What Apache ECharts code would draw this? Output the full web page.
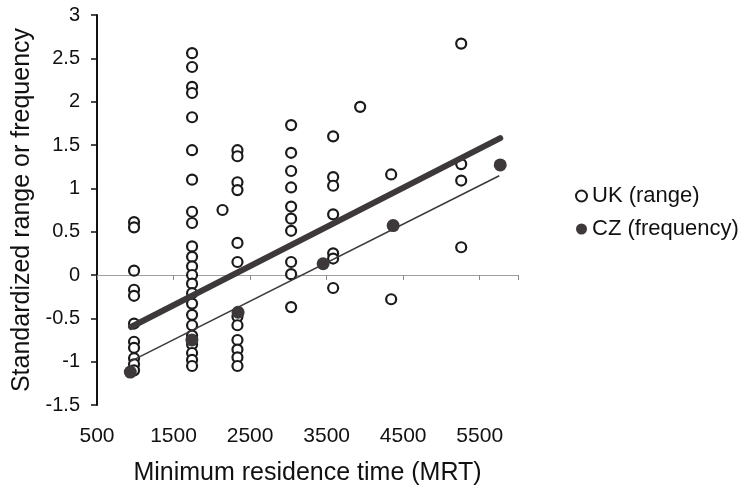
<!DOCTYPE html>
<html>
<head>
<meta charset="utf-8">
<script src="https://cdn.jsdelivr.net/npm/echarts@6/dist/echarts.min.js"></script>
<style>
html, body { margin: 0; padding: 0; background: #fff; }
#chart { width: 742px; height: 488px; }
</style>
</head>
<body>
<div id="chart"></div>
<script>
// UK (range) - open circles, [MRT, standardized value]
var ukPoints = [
	[984, 0.61], [984, 0.55], [984, 0.05], [984, -0.17], [984, -0.24], [984, -0.56],
	[984, -0.77], [984, -0.84], [984, -0.96], [984, -1.03], [984, -1.1],
	[1742, 2.56], [1742, 2.40], [1742, 2.17], [1742, 2.10], [1742, 1.82], [1742, 1.44],
	[1742, 1.10], [1742, 0.73], [1742, 0.60], [1742, 0.33], [1742, 0.21], [1742, 0.10],
	[1742, 0.0], [1742, -0.10], [1742, -0.21], [1742, -0.33], [1742, -0.46], [1742, -0.58],
	[1742, -0.70], [1742, -0.80], [1742, -0.90], [1742, -0.98], [1742, -1.05],
	[2140, 0.75],
	[2335, 1.44], [2335, 1.37], [2335, 1.07], [2335, 0.98], [2335, 0.37], [2335, 0.15],
	[2335, -0.48], [2335, -0.58], [2335, -0.75], [2335, -0.86], [2335, -0.95], [2335, -1.05],
	[3036, 1.73], [3036, 1.41], [3036, 1.20], [3036, 1.01], [3036, 0.79], [3036, 0.65],
	[3036, 0.51], [3036, 0.15], [3036, 0.01], [3036, -0.37],
	[3585, 1.60], [3585, 1.13], [3585, 1.03], [3585, 0.70], [3585, 0.25], [3585, 0.19], [3585, -0.15],
	[3938, 1.94], [4343, 1.16], [4343, -0.28],
	[5258, 2.67], [5258, 1.28], [5258, 1.09], [5258, 0.32]
];
// CZ (frequency) - filled circles
var czPoints = [[935, -1.12], [1740, -0.75], [2343, -0.43], [3454, 0.13], [4369, 0.57], [5768, 1.27]];
// fitted lines (end points)
var ukFit = [[944, -0.60], [5768, 1.58]];
var czFit = [[931, -1.0], [5755, 1.145]];

var xTicks = { min: 500, max: 6000, step: 1000 };
var yTicks = { min: -1.5, max: 3, step: 0.5 };

var chart = echarts.init(document.getElementById('chart'));
var ink = '#3d3839';
var font = "'Liberation Sans', Arial, sans-serif";

var option = {
	backgroundColor: '#fff',
	animation: false,
	textStyle: { fontFamily: font, color: '#111' },
	grid: { left: 97, right: 224, top: 15, bottom: 83, outerBoundsMode: 'none' },
	legend: {
		orient: 'vertical',
		left: 570,
		top: 180,
		itemWidth: 11,
		itemHeight: 11,
		itemGap: 11,
		data: ['UK (range)', 'CZ (frequency)'],
		textStyle: { fontSize: 22, color: '#111', fontFamily: font }
	},
	xAxis: [{
		type: 'value',
		min: xTicks.min,
		max: xTicks.max,
		interval: xTicks.step,
		position: 'bottom',
		name: 'Minimum residence time (MRT)',
		nameLocation: 'middle',
		nameGap: 56,
		nameTextStyle: { fontSize: 25, color: '#111', fontFamily: font },
		axisLine: { show: false, onZero: false },
		axisTick: { show: false },
		splitLine: { show: false },
		axisLabel: {
			fontSize: 21, color: '#111', margin: 21, showMaxLabel: false,
			formatter: function (v) { return String(v); }
		}
	}, {
		// zero line with ticks
		type: 'value',
		min: xTicks.min,
		max: xTicks.max,
		interval: xTicks.step,
		position: 'bottom',
		axisLine: { show: true, onZero: true, lineStyle: { color: '#a0a0a0', width: 1 } },
		axisTick: { show: true, length: 5, lineStyle: { color: '#888', width: 1 } },
		axisLabel: { show: false },
		splitLine: { show: false }
	}],
	yAxis: {
		type: 'value',
		min: yTicks.min,
		max: yTicks.max,
		interval: yTicks.step,
		name: 'Standardized range or frequency',
		nameLocation: 'middle',
		nameGap: 62,
		nameTextStyle: { fontSize: 25, color: '#111', fontFamily: font },
		axisLine: { show: true, lineStyle: { color: '#111', width: 2 } },
		axisTick: { show: true, length: 6, lineStyle: { color: '#111', width: 1.5 } },
		splitLine: { show: false },
		axisLabel: { fontSize: 20, color: '#111', margin: 17 }
	},
	series: [{
		name: 'UK (range)',
		type: 'scatter',
		data: ukPoints,
		symbol: 'circle',
		symbolSize: 10,
		itemStyle: { color: '#fff', borderColor: '#1a1a1a', borderWidth: 2.2, opacity: 1 }
	}, {
		name: 'UK fit',
		type: 'line',
		data: ukFit,
		symbol: 'none',
		lineStyle: { color: ink, width: 6, cap: 'round' }
	}, {
		name: 'CZ fit',
		type: 'line',
		data: czFit,
		symbol: 'none',
		lineStyle: { color: ink, width: 1.5 }
	}, {
		name: 'CZ (frequency)',
		type: 'scatter',
		data: czPoints,
		symbol: 'circle',
		symbolSize: 13,
		itemStyle: { color: ink, opacity: 1 }
	}]
};

chart.setOption(option);
</script>
</body>
</html>
